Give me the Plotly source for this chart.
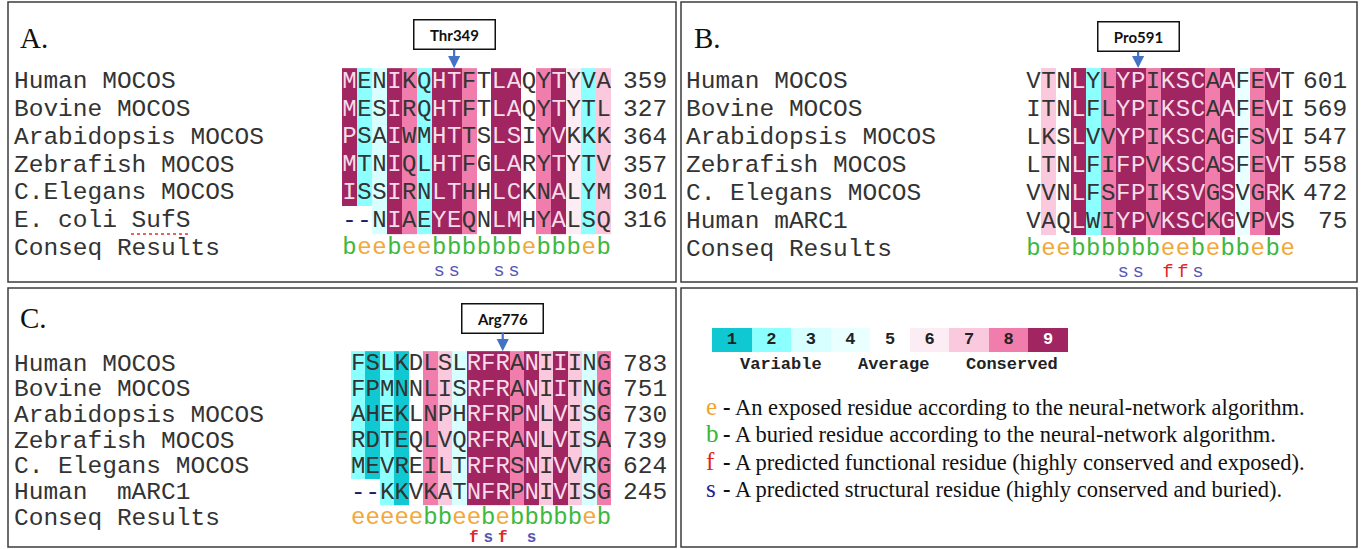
import plotly.graph_objects as go

W, H = 1363, 549

# ---------------- data ----------------
grade_colors = ["#10C8D1", "#8CFFFF", "#D7FFFF", "#EAFFFF", "#FFFFFF",
                "#FCEDF4", "#FAC9DE", "#F07DAB", "#A02560"]
grade_labels = ["1", "2", "3", "4", "5", "6", "7", "8", "9"]
key_words = ["Variable", "Average", "Conserved"]

a_names = ["Human MOCOS", "Bovine MOCOS", "Arabidopsis MOCOS", "Zebrafish MOCOS",
           "C.Elegans MOCOS", "E. coli SufS"]
a_seqs = ["MENIKQHTFTLAQYTYVA", "MESIRQHTFTLAQYTYTL", "PSAIWMHTTSLSIYVKKK",
          "MTNIQLHTFGLARYTYTV", "ISSIRNLTHHLCKNALYM", "--NIAEYEQNLMHYALSQ"]
a_ends = [359, 327, 364, 357, 301, 316]
a_grades = [9, 2, 3, 9, 8, 2, 9, 9, 8, 5, 9, 9, 5, 8, 9, 6, 2, 7]
a_conseq = "beebeebbbbbbebbbeb"
a_pred = "      ss  ss      "
a_mark = ("Thr349", 8)

b_names = ["Human MOCOS", "Bovine MOCOS", "Arabidopsis MOCOS", "Zebrafish MOCOS",
           "C. Elegans MOCOS", "Human mARC1"]
b_seqs = ["VTNLYLYPIKSCAAFEVT", "ITNLFLYPIKSCAAFEVI", "LKSLVVYPIKSCAGFSVI",
          "LTNLFIFPVKSCASFEVT", "VVNLFSFPIKSVGSVGRK", "VAQLWIYPVKSCKGVPVS"]
b_ends = [601, 569, 547, 558, 472, 75]
b_grades = [5, 7, 5, 9, 2, 8, 9, 9, 8, 9, 9, 9, 8, 9, 4, 8, 9, 5]
b_conseq = "beebbbbbbeebebbebe"
b_pred = "      ss ffs      "
b_mark = ("Pro591", 8)

c_names = ["Human MOCOS", "Bovine MOCOS", "Arabidopsis MOCOS", "Zebrafish MOCOS",
           "C. Elegans MOCOS", "Human  mARC1"]
c_seqs = ["FSLKDLSLRFRANIIING", "FPMNNLISRFRANIITNG", "AHEKLNPHRFRPNLVISG",
          "RDTEQLVQRFRANLVISA", "MEVREILTRFRSNIVVRG", "--KKVKATNFRPNIVISG"]
c_ends = [783, 751, 730, 739, 624, 245]
c_grades = [2, 1, 2, 1, 5, 8, 7, 3, 9, 9, 9, 8, 9, 7, 9, 7, 3, 8]
c_conseq = "eeeeebbeebebbbbbeb"
c_pred = "        fsf s     "
c_mark = ("Arg776", 11)

legend_items = [
    ("e", "#F2A32C", "An exposed residue according to the neural-network algorithm."),
    ("b", "#33B833", "A buried residue according to the neural-network algorithm."),
    ("f", "#E02222", "A predicted functional residue (highly conserved and exposed)."),
    ("s", "#22228C", "A predicted structural residue (highly conserved and buried)."),
]

# ---------------- styling ----------------
MONO = "Courier New, Liberation Mono, monospace"
SERIF = "Times New Roman, Liberation Serif, serif"
SANS = "Lato, Open Sans, sans-serif"
CONSEQ_COL = {"b": "#3DB83D", "e": "#F2A83A"}
PRED_COL = {"s": "#5555B5", "f": "#E02828"}
TXT = "#333333"

cs = []
for i, c in enumerate(grade_colors):
    cs.append([i / 9, c])
    cs.append([(i + 1) / 9, c])

panels = [
    dict(names=a_names, seqs=a_seqs, ends=a_ends, grades=a_grades, conseq=a_conseq,
         pred=a_pred, mark=a_mark, label="A.", box=(8, 2, 676, 282), sx=342, cw=14.95,
         ry=82, rs=27.7, nx=12, nr=669, lab=(18, 38), mbox=(35,), pred_y=271,
         pred_bold=False, pred_size=19),
    dict(names=b_names, seqs=b_seqs, ends=b_ends, grades=b_grades, conseq=b_conseq,
         pred=b_pred, mark=b_mark, label="B.", box=(681, 2, 1357, 282), sx=1026, cw=14.95,
         ry=82, rs=27.9, nx=684, nr=1349, lab=(692, 38), mbox=(37,), pred_y=272,
         pred_bold=False, pred_size=19),
    dict(names=c_names, seqs=c_seqs, ends=c_ends, grades=c_grades, conseq=c_conseq,
         pred=c_pred, mark=c_mark, label="C.", box=(8, 288, 676, 547), sx=351, cw=14.45,
         ry=364, rs=25.7, nx=12, nr=669, lab=(18, 318), mbox=(318,), pred_y=538,
         pred_bold=True, pred_size=16),
]

fig = go.Figure()
annotations = []
shapes = []
layout_axes = {}


def px(x):
    return x / W


def py(y):
    return 1 - y / H


for i, p in enumerate(panels):
    k = i + 1
    xn, yn = f"x{k}", f"y{k}"
    x0, y0, x1, y1 = p["box"]
    sx, cw, ry, rs = p["sx"], p["cw"], p["ry"], p["rs"]

    def cx(v, sx=sx, cw=cw):
        return (v - sx) / cw + 0.5

    def ryd(v, ry=ry, rs=rs):
        return (v - ry) / rs + 1

    layout_axes[f"xaxis{k}"] = dict(domain=[px(x0), px(x1)], range=[cx(x0), cx(x1)],
                                    visible=False, fixedrange=True, anchor=yn)
    layout_axes[f"yaxis{k}"] = dict(domain=[py(y1), py(y0)], range=[ryd(y1), ryd(y0)],
                                    visible=False, fixedrange=True, anchor=xn)

    ncol = len(p["grades"])
    cols = list(range(1, ncol + 1))
    rows = list(range(1, len(p["seqs"]) + 1))
    z = [[None if s[c] == "-" else p["grades"][c] for c in range(ncol)] for s in p["seqs"]]
    fig.add_trace(go.Heatmap(z=z, x=cols, y=rows, colorscale=cs, zmin=0.5, zmax=9.5,
                             showscale=False, hoverinfo="skip", xaxis=xn, yaxis=yn))

    lx, ly, lt, lc = [], [], [], []
    for r, s in enumerate(p["seqs"]):
        for c, ch in enumerate(s):
            lx.append(c + 1)
            ly.append(r + 1)
            lt.append(ch)
            if ch == "-":
                lc.append("#1a1a6e")
            elif p["grades"][c] == 9:
                lc.append("#F6DCE8")
            else:
                lc.append(TXT)
    fig.add_trace(go.Scatter(x=lx, y=ly, text=lt, mode="text", cliponaxis=False,
                             textfont=dict(family=MONO, size=24, color=lc),
                             hoverinfo="skip", xaxis=xn, yaxis=yn, showlegend=False))

    # conseq row
    crow = len(p["seqs"]) + 1
    fig.add_trace(go.Scatter(x=cols, y=[crow] * ncol, text=list(p["conseq"]), mode="text",
                             cliponaxis=False,
                             textfont=dict(family=MONO, size=24,
                                           color=[CONSEQ_COL[ch] for ch in p["conseq"]]),
                             hoverinfo="skip", xaxis=xn, yaxis=yn, showlegend=False))
    # predicted row
    pcols = [c + 1 for c, ch in enumerate(p["pred"]) if ch != " "]
    pch = [ch for ch in p["pred"] if ch != " "]
    fig.add_trace(go.Scatter(x=pcols, y=[ryd(p["pred_y"])] * len(pcols), text=pch,
                             mode="text", cliponaxis=False,
                             textfont=dict(family=MONO, size=p["pred_size"],
                                           color=[PRED_COL[ch] for ch in pch],
                                           weight="bold" if p["pred_bold"] else "normal"),
                             hoverinfo="skip", xaxis=xn, yaxis=yn, showlegend=False))

    # names and end numbers
    for r, (nm, en) in enumerate(zip(p["names"] + ["Conseq Results"], p["ends"] + [None])):
        annotations.append(dict(x=cx(p["nx"]), y=r + 1, xref=xn, yref=yn, text=nm,
                                showarrow=False, xanchor="left", yanchor="middle",
                                font=dict(family=MONO, size=24.5, color=TXT)))
        if en is not None:
            annotations.append(dict(x=cx(p["nr"]), y=r + 1, xref=xn, yref=yn, text=str(en),
                                    showarrow=False, xanchor="right", yanchor="middle",
                                    font=dict(family=MONO, size=24.5, color=TXT)))

    # panel label
    annotations.append(dict(x=px(p["lab"][0]), y=py(p["lab"][1]), xref="paper", yref="paper",
                            text=p["label"], showarrow=False, xanchor="left",
                            yanchor="middle", font=dict(family=SERIF, size=29, color="#111")))

    # marker box with arrow
    mtext, mcol = p["mark"]
    top_px = ry - rs / 2
    annotations.append(dict(x=mcol, y=0.5, xref=xn, yref=yn, text=f"<b>{mtext}</b>",
                            showarrow=True, ax=0, ay=p["mbox"][0] - top_px,
                            arrowcolor="#4472C4", arrowwidth=2.2, arrowhead=2, arrowsize=1.1,
                            standoff=0, bgcolor="white", bordercolor="#111", borderwidth=1.5,
                            width=76, height=24, borderpad=2,
                            font=dict(family=SANS, size=15, color="#111")))

    shapes.append(dict(type="rect", xref="paper", yref="paper", x0=px(x0), x1=px(x1),
                       y0=py(y1), y1=py(y0), line=dict(color="#3c3c3c", width=1.5)))

# red spell-check underline under "SufS"
shapes.append(dict(type="line", xref="paper", yref="paper", x0=px(131), x1=px(189),
                   y0=py(234), y1=py(234), line=dict(color="#e03030", width=1.5, dash="dot")))

# panel D
shapes.append(dict(type="rect", xref="paper", yref="paper", x0=px(681), x1=px(1357),
                   y0=py(547), y1=py(288), line=dict(color="#3c3c3c", width=1.5)))

layout_axes["xaxis4"] = dict(domain=[px(712), px(1068)], range=[0.5, 9.5], visible=False,
                             fixedrange=True, anchor="y4")
layout_axes["yaxis4"] = dict(domain=[py(352), py(328)], range=[0.5, 1.5], visible=False,
                             fixedrange=True, anchor="x4")
kx = list(range(1, 10))
fig.add_trace(go.Heatmap(z=[kx], x=kx, y=[1], colorscale=cs, zmin=0.5, zmax=9.5,
                         showscale=False, hoverinfo="skip", xaxis="x4", yaxis="y4"))
fig.add_trace(go.Scatter(x=kx, y=[1] * 9, text=grade_labels, mode="text", cliponaxis=False,
                         textfont=dict(family=MONO, size=17, weight="bold",
                                       color=["#222"] * 8 + ["#ffffff"]),
                         hoverinfo="skip", xaxis="x4", yaxis="y4", showlegend=False))
for word, xc in zip(key_words, [781, 893, 1012]):
    annotations.append(dict(x=px(xc), y=py(364), xref="paper", yref="paper", text=f"<b>{word}</b>",
                            showarrow=False, xanchor="center", yanchor="middle",
                            font=dict(family=MONO, size=17, color="#222")))

for (letter, col, desc), yc in zip(legend_items, [407, 434.5, 462, 489.5]):
    annotations.append(dict(x=px(704), y=py(yc - 1), xref="paper", yref="paper",
                            text=letter, showarrow=False, xanchor="left", yanchor="middle",
                            font=dict(family=SERIF, size=25, color=col)))
    annotations.append(dict(x=px(721), y=py(yc), xref="paper", yref="paper",
                            text=f"<b>-</b> {desc}",
                            showarrow=False, xanchor="left", yanchor="middle",
                            font=dict(family=SERIF, size=22.5, color="#111")))

fig.update_layout(width=W, height=H, margin=dict(l=0, r=0, t=0, b=0),
                  paper_bgcolor="white", plot_bgcolor="rgba(0,0,0,0)",
                  showlegend=False, annotations=annotations, shapes=shapes, **layout_axes)

fig.write_html("out.html", config={"displayModeBar": False},
               post_script="document.body.style.margin='0px';")
